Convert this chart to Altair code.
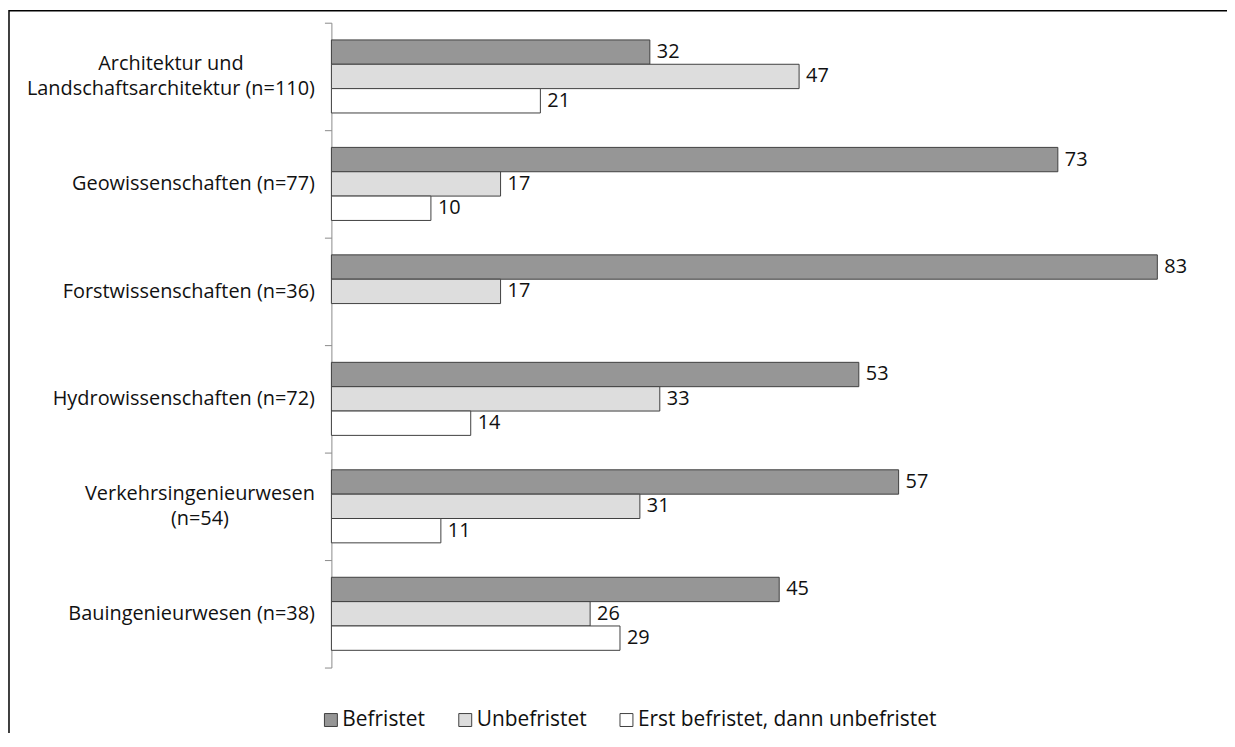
import json
import altair as alt
import pandas as pd

# ---- data ----
categories = [
    "Architektur und|Landschaftsarchitektur (n=110)",
    "Geowissenschaften (n=77)",
    "Forstwissenschaften (n=36)",
    "Hydrowissenschaften (n=72)",
    "Verkehrsingenieurwesen|(n=54)",
    "Bauingenieurwesen (n=38)",
]
series = ["Befristet", "Unbefristet", "Erst befristet, dann unbefristet"]
befristet = [32, 73, 83, 53, 57, 45]
unbefristet = [47, 17, 17, 33, 31, 26]
erst_dann = [21, 10, None, 14, 11, 29]
colors = ["#969696", "#dddddd", "#ffffff"]

FONT = "Open Sans"
LABEL_SIZE = 20
LINE_H = 25
LABEL_PAD = 10

# approximate Open Sans advance widths (per 1000 em), used only to centre
# the lines of a two-line label inside its right-aligned block
_W = {c: 572 for c in "0123456789"}
_W.update({"a": 556, "b": 613, "c": 476, "d": 613, "e": 561, "f": 339, "g": 551,
           "h": 614, "i": 253, "k": 525, "l": 253, "n": 614, "o": 603, "r": 408,
           "s": 477, "t": 353, "u": 614, "w": 771, " ": 260, "(": 295, ")": 295,
           "=": 572, "A": 633, "L": 535, "V": 590})


def _width(s):
    return sum(_W.get(ch, 560) for ch in s) / 1000 * LABEL_SIZE


pad_conditions = []
off_conditions = []
align_conditions = []
for cat in categories:
    lines = cat.split("|")
    if len(lines) > 1:
        test = "datum.value == " + json.dumps(cat)
        half = max(_width(l) for l in lines) / 2
        pad_conditions.append({"test": test, "value": round(LABEL_PAD + half, 1)})
        off_conditions.append({"test": test, "value": -(len(lines) - 1) * LINE_H / 2})
        align_conditions.append({"test": test, "value": "center"})

rows = []
for cat, vals in zip(categories, zip(befristet, unbefristet, erst_dann)):
    for s, v in zip(series, vals):
        if v is not None:
            rows.append({"kategorie": cat, "art": s, "wert": v})
df = pd.DataFrame(rows)

W, H = 880, 648

y_enc = alt.Y(
    "kategorie:N",
    sort=categories,
    scale=alt.Scale(domain=categories, paddingInner=0, paddingOuter=0),
    axis=alt.Axis(
        title=None,
        labelExpr="split(datum.label, '|')",
        labelFont=FONT,
        labelFontSize=LABEL_SIZE,
        labelColor="#111111",
        labelLimit=600,
        labelPadding={"condition": pad_conditions, "value": LABEL_PAD},
        labelOffset={"condition": off_conditions, "value": 0},
        labelAlign={"condition": align_conditions, "value": "right"},
        labelLineHeight=LINE_H,
        tickSize=7,
        tickColor="#8a8a8a",
        domainColor="#8a8a8a",
        tickBand="extent",
        grid=False,
    ),
)
yoff_enc = alt.YOffset("art:N", sort=series,
                       scale=alt.Scale(domain=series, paddingInner=0, paddingOuter=0.707))
x_enc = alt.X("wert:Q", axis=None,
              scale=alt.Scale(domain=[0, W / 10], nice=False, zero=True))

base = alt.Chart(df)

bars = base.mark_bar(stroke="#404040", strokeWidth=1).encode(
    x=x_enc,
    y=y_enc,
    yOffset=yoff_enc,
    color=alt.Color(
        "art:N",
        sort=series,
        scale=alt.Scale(domain=series, range=colors),
        legend=alt.Legend(
            title=None,
            orient="none",
            legendX=-11,
            legendY=690,
            direction="horizontal",
            columns=3,
            columnPadding=29,
            symbolType="square",
            symbolSize=169,
            symbolStrokeColor="#404040",
            symbolStrokeWidth=1,
            labelFont=FONT,
            labelFontSize=21,
            labelColor="#111111",
            labelLimit=600,
            labelOffset=1,
            padding=0,
        ),
    ),
)

values = base.mark_text(align="left", baseline="middle", dx=7, font=FONT,
                        fontSize=LABEL_SIZE, color="#111111").encode(
    x=x_enc,
    y=alt.Y("kategorie:N", sort=categories),
    yOffset=yoff_enc,
    text=alt.Text("wert:Q", format="d"),
)

frame = alt.Chart(pd.DataFrame({"f": [0]})).mark_rect(
    filled=False, stroke="#000000", strokeWidth=1.5
).encode(
    x=alt.value(-324),
    x2=alt.value(3000),
    y=alt.value(-12),
    y2=alt.value(3000),
)

chart = (
    alt.layer(bars, values, frame)
    .properties(
        width=W,
        height=H,
        autosize=alt.AutoSizeParams(type="none"),
        padding={"left": 325, "top": 13, "right": 20, "bottom": 64},
        background="#ffffff",
    )
    .configure_view(stroke=None)
)

chart.save("out.html", embed_options={"renderer": "svg", "actions": False})
